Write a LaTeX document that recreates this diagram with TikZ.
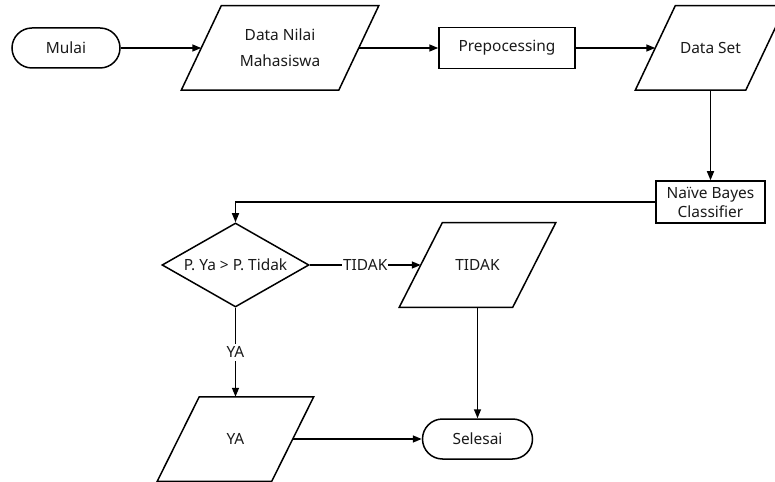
\documentclass[tikz,border=0pt]{standalone}
\usepackage{fontspec}
\setmainfont{Noto Sans}
\usetikzlibrary{arrows.meta,shapes.geometric}
\definecolor{txt}{HTML}{1A1A1A}
\tikzset{
  base/.style={font=\fontsize{15.5}{19}\selectfont, text=txt, inner sep=0pt, align=center, line width=1.5bp},
  term/.style={base, draw, rounded corners=20bp, minimum width=#1, minimum height=40bp},
  procbox/.style={base, draw},
  io/.style={base, minimum width=#1, minimum height=83bp},
  decide/.style={base, draw, diamond, minimum width=147bp, minimum height=84bp},
  flow/.style={line width=1.5bp, -{Triangle[length=9bp,width=7bp]}},
  edgelbl/.style={base, fill=white, inner sep=1bp}
}
\begin{document}
\begin{tikzpicture}[x=1bp,y=-1bp]
\clip (0,0) rectangle (775,482);
\useasboundingbox (0,0) rectangle (775,482);
\node[term=108bp] (mulai) at (66,48) {Mulai};
\node[io=156bp] (dn) at (280,48) {Data Nilai\\[7pt]Mahasiswa};
\node[procbox, minimum width=136bp, minimum height=41bp] (prep) at (507,48) {Prepocessing};
\node[io=109bp] (ds) at (710.5,48) {Data Set};
\node[procbox, minimum width=109bp, minimum height=42bp] (nb) at (710.5,202) {Naïve Bayes\\[0pt]Classifier};
\node[decide] (dec) at (235.5,265) {};
\node[base] (dect) at (dec.center) {P. Ya > P. Tidak};
\node[io=112bp] (td) at (477.5,265) {TIDAK};
\node[io=113bp] (ya) at (235.5,439) {YA};
\node[term=110bp] (sel) at (477.5,439) {Selesai};
% parallelogram outlines
\foreach \n/\s in {dn/20, ds/20, td/21.5, ya/21}{
  \draw[line width=1.5bp, line join=miter]
    ([xshift=\s bp]\n.north west) -- ([xshift=\s bp]\n.north east)
    -- ([xshift=-\s bp]\n.south east) -- ([xshift=-\s bp]\n.south west) -- cycle;
}
\draw[flow] (mulai.east) -- (dn.west);
\draw[flow] (dn.east) -- (prep.west);
\draw[flow] (prep.east) -- (ds.west);
\draw[flow] (ds.south) -- (nb.north);
\draw[flow] (nb.west) -| (dec.north);
\draw[flow] (dec.east) -- node[edgelbl] (ltidak) {TIDAK} (td.west);
\draw[flow] (dec.south) -- node[edgelbl, inner sep=3bp] (lya) {YA} (ya.north);
\draw[flow] (td.south) -- (sel.north);
\draw[flow] (ya.east) -- (sel.west);
\end{tikzpicture}
\end{document}
